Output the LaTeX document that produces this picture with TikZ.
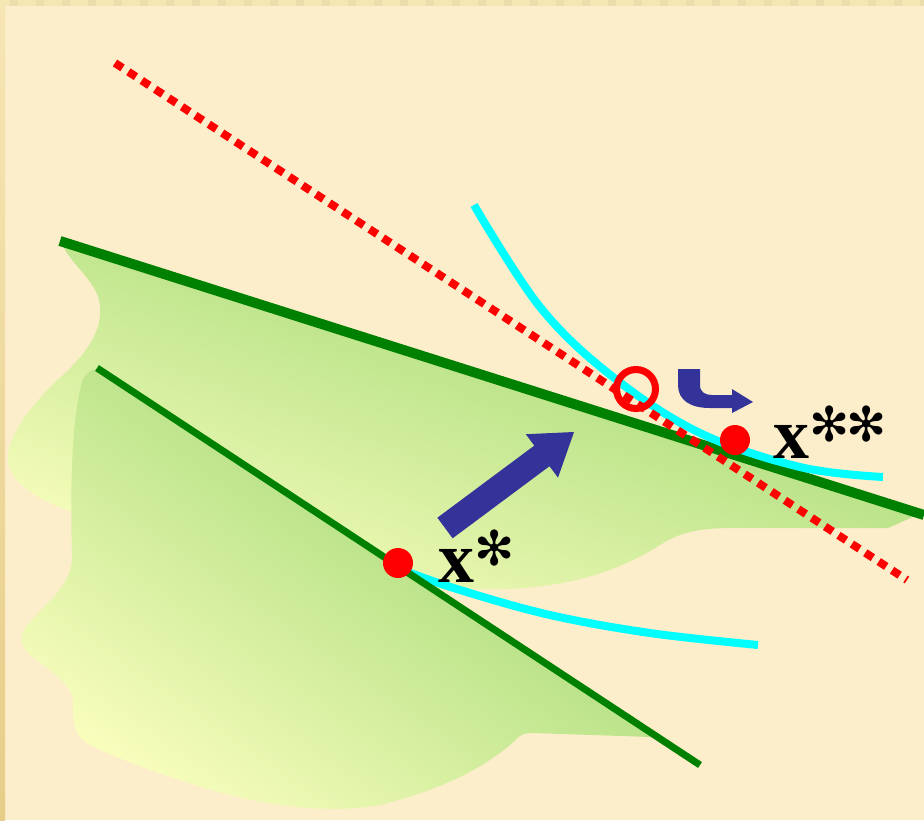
\documentclass[tikz,border=0pt]{standalone}
\usepackage{fontspec}
\setmainfont{Liberation Serif}
\newfontfamily\starfont{DejaVu Sans}
\usepackage{xcolor}
\usepackage{tikz}
\usetikzlibrary{arrows.meta, positioning, calc}

\definecolor{paper}{RGB}{252,238,203}
\definecolor{rimgold}{RGB}{230,205,136}
\definecolor{rimlight}{RGB}{246,230,180}
\definecolor{leafgreen}{RGB}{150,212,108}
\definecolor{leafyellow}{RGB}{248,253,188}
\definecolor{budgetgreen}{RGB}{0,128,0}
\definecolor{indiffcyan}{RGB}{0,255,255}
\definecolor{arrowblue}{RGB}{51,51,153}

\newcommand{\optstar}{{\starfont\fontsize{48}{48}\selectfont\raisebox{17pt}{✻}}}

\begin{document}
\begin{tikzpicture}[
  x=1pt, y=-1pt,
  region/.style={shading=axis, top color=leafgreen, bottom color=leafyellow},
  budget/.style={budgetgreen, line width=#1},
  indiff/.style={indiffcyan, line width=8pt},
  guess/.style={red, line width=8pt, dash pattern=on 9pt off 7pt},
  optdot/.style={circle, fill=red, minimum size=30pt, inner sep=0pt},
  ring/.style={circle, draw=red, line width=7pt, minimum size=39pt, inner sep=0pt},
  optlabel/.style={anchor=base west, inner sep=0pt, font=\bfseries\fontsize{72}{72}\selectfont}
]
  \useasboundingbox (0,0) rectangle (924,820);
  \fill[paper] (0,0) rectangle (924,820);
  \fill[rimlight] (0,0) rectangle (924,6);
  \draw[rimgold!70, line width=6pt, dash pattern=on 8pt off 18pt] (10,3) -- (924,3);
  \shade[top color=rimlight, bottom color=rimgold] (0,0) rectangle (5,820);

  \coordinate (b1s) at (60,241);
  \coordinate (b1e) at (924,515);
  \coordinate (b2s) at (97,368);
  \coordinate (b2e) at (700,765);

  \shade[region, shading angle=-20]
    (62,243) -- (915,516) -- (888,528) -- (733,528)
    .. controls (700,528) and (680,532) .. (660,545)
    .. controls (620,570) and (570,588) .. (500,589)
    -- (430,590) -- (250,560) -- (100,520) -- (67,510)
    .. controls (40,500) and (12,485) .. (8,462)
    .. controls (5,440) and (30,405) .. (60,378)
    .. controls (90,350) and (102,330) .. (100,305)
    .. controls (97,280) and (70,265) .. (62,243) -- cycle;

  \shade[region, shading angle=-35]
    (97,369) -- (651,737) -- (532,733)
    .. controls (520,733) and (518,738) .. (510,745)
    .. controls (480,770) and (440,790) .. (380,805)
    .. controls (340,812) and (290,810) .. (230,795)
    .. controls (180,782) and (120,760) .. (90,745)
    .. controls (72,735) and (73,720) .. (73,700)
    .. controls (72,685) and (50,670) .. (30,655)
    .. controls (18,645) and (20,632) .. (30,622)
    .. controls (50,600) and (70,585) .. (72,560)
    .. controls (70,480) and (72,420) .. (82,382)
    .. controls (85,374) and (90,370) .. (97,369) -- cycle;

  \draw[indiff] plot[smooth, tension=0.6] coordinates {(405,571) (460,590) (550,615) (650,633) (758,645)};
  \draw[budget=10pt] (b1s) -- (b1e);
  \draw[budget=7pt] (b2s) -- (b2e);
  \draw[indiff] plot[smooth, tension=0.6] coordinates {(474,205) (540,307) (613,377) (700,433) (800,467) (883,477)};

  \coordinate (g1) at (115,63);
  \coordinate (g2) at (907,580);
  \draw[guess] (g1) -- (g2);

  \node[ring] (cross) at (636,389) {};
  \node[optdot] (xs) at (398,563) {};
  \node[optdot] (xss) at (735,440) {};

  \fill[arrowblue] (437.4,517.7) -- (534.3,445.6) -- (525.8,434.2) -- (574,432)
    -- (558.0,477.6) -- (549.5,466.2) -- (452.6,538.3) -- cycle;
  \fill[arrowblue] (678,369) -- (678,385) .. controls (678,400) and (690,408) .. (710,408)
    -- (732,408) -- (732,413) -- (753,402) -- (732,389) -- (732,395) -- (712,395)
    .. controls (705,395) and (700,392) .. (700,385) -- (700,369) -- cycle;

  \node[optlabel] (xslab) at (438,582) {x\optstar};
  \node[optlabel] (xsslab) at (773,458) {x\optstar\kern-3pt\optstar};
\end{tikzpicture}
\end{document}
